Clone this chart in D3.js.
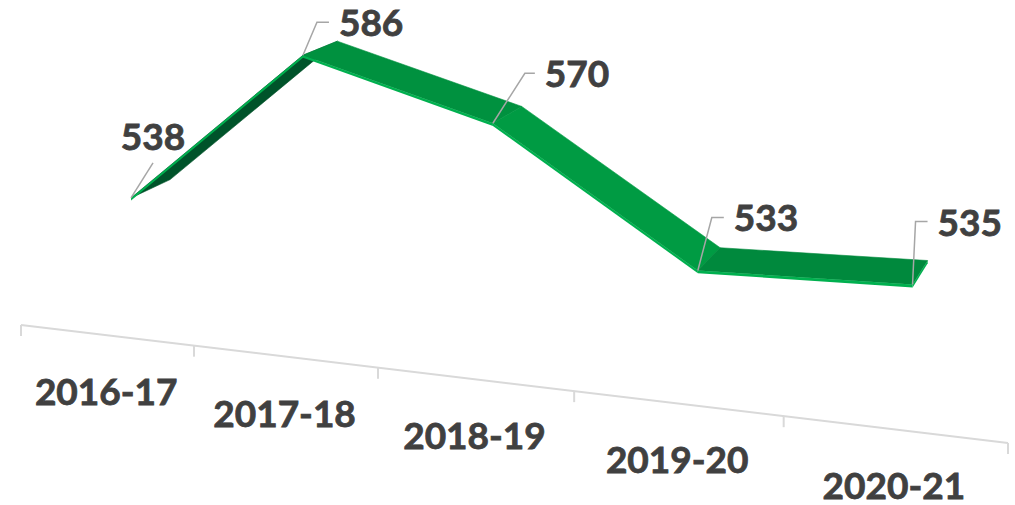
<!DOCTYPE html>
<html>
<head>
<meta charset="utf-8">
<script src="https://cdn.jsdelivr.net/npm/d3@7"></script>
<style>
  body { margin: 0; background: #fff; }
  text { font-family: Lato, "Open Sans", sans-serif; font-weight: 700; fill: #404040; stroke: #404040; stroke-width: 0.8px; }
</style>
</head>
<body>
<div id="chart"></div>
<script>
var categories = ["2016-17", "2017-18", "2018-19", "2019-20", "2020-21"];
var values = [538, 586, 570, 533, 535];
// label leader lines: [dx, dy, horizontal tail] from the ribbon front edge
var leaders = [[22, -35, 0], [14, -33, 12], [32, -50, 10], [14, -53, 12], [3, -63, 12]];

var width = 1015;
var height = 505;

var svg = d3.select("#chart").append("svg")
    .attr("width", width)
    .attr("height", height)

// scales: category -> position along the axis u, value -> ribbon height h
var x = d3.scaleBand()
    .domain(categories)
    .range([0, 5])
var y = d3.scaleLinear()
    .domain([500, 600])
    .range([0, 318])

// simple perspective projection of (u, h, d) onto the page
function proj(u, h, d) {
    var w = 1 - 0.03 * u + 0.0336 * d;
    var nx = 50.3 + 165 * u - 0.031 * h + 44.2 * d;
    var ny = 310.6 + 10.4 * u - h - 12 * d;
    return [nx / w, ny / w];
}
// front edge of the floor (category axis)
function floorPt(u) {
    var w = 1 - 0.03 * u;
    return [(21 + 167.16 * u) / w, (325 + 10.31 * u) / w];
}

function uOf(c) { return x(c) + x.bandwidth() / 2; }

var thick = 2.5;
var pts = categories.map(function (c, i) {
    var u = uOf(c), h = y(values[i]);
    return {
        f: proj(u, h, 0), b: proj(u, h, 1),
        f2: proj(u, h - thick, 0), b2: proj(u, h - thick, 1)
    };
});

// axis
var axis = svg.append("g").attr("class", "x-axis")
axis.append("line")
    .attr("x1", floorPt(0)[0]).attr("y1", floorPt(0)[1])
    .attr("x2", floorPt(5)[0]).attr("y2", floorPt(5)[1])
    .attr("stroke", "#d9d9d9").attr("stroke-width", 2)
axis.selectAll(".tick")
    .data(d3.range(categories.length + 1))
    .enter().append("line")
    .attr("class", "tick")
    .attr("x1", function (d) { return floorPt(d)[0]; })
    .attr("x2", function (d) { return floorPt(d)[0]; })
    .attr("y1", function (d) { return floorPt(d)[1]; })
    .attr("y2", function (d) { return floorPt(d)[1] + 11; })
    .attr("stroke", "#d9d9d9").attr("stroke-width", 2)
axis.selectAll(".cat")
    .data(categories)
    .enter().append("text")
    .attr("class", "cat")
    .attr("x", function (d) { return floorPt(uOf(d))[0]; })
    .attr("y", function (d) { return floorPt(uOf(d))[1] + 70; })
    .attr("text-anchor", "middle")
    .style("font-size", "37px")
    .text(function (d) { return d; })

// ribbon
var line = d3.line();
var shade = d3.interpolateRgb("#00873c", "#009c43");
var rib = svg.append("g").attr("class", "ribbon")
for (var i = 0; i < pts.length - 1; i++) {
    var p = pts[i], q = pts[i + 1];
    var ex = q.f[0] - p.f[0], ey = q.f[1] - p.f[1];
    var dx = q.b[0] - q.f[0], dy = q.b[1] - q.f[1];
    var flipped = ex * dy - ey * dx > 0;
    var slope = Math.min(1, Math.abs(ey / ex) / 0.75);
    rib.append("path")
        .attr("d", line([p.f, q.f, q.b, p.b]) + "Z")
        .attr("fill", flipped ? "#00532a" : shade(slope))
        .attr("stroke", flipped ? "#00532a" : shade(slope))
        .attr("stroke-width", 0.6)
    rib.append("path")
        .attr("d", line([p.f, q.f, q.f2, p.f2]) + "Z")
        .attr("fill", "#00b04f")
}
var last = pts[pts.length - 1];
rib.append("path")
    .attr("d", line([last.f, last.b, last.b2, last.f2]) + "Z")
    .attr("fill", "#00b04f")

// data labels with leader lines
var lab = svg.append("g").attr("class", "labels")
values.forEach(function (v, i) {
    var s = pts[i].f, o = leaders[i];
    var e = [s[0] + o[0], s[1] + o[1]];
    var t = [e[0] + o[2], e[1]];
    lab.append("path")
        .attr("d", line([s, e, t]))
        .attr("fill", "none")
        .attr("stroke", "#a6a6a6")
        .attr("stroke-width", 1.5)
    lab.append("text")
        .attr("x", o[2] > 0 ? t[0] + 10 : e[0])
        .attr("y", o[2] > 0 ? t[1] + 14 : e[1] - 13)
        .attr("text-anchor", o[2] > 0 ? "start" : "middle")
        .style("font-size", "37px")
        .text(v)
})
</script>
</body>
</html>
